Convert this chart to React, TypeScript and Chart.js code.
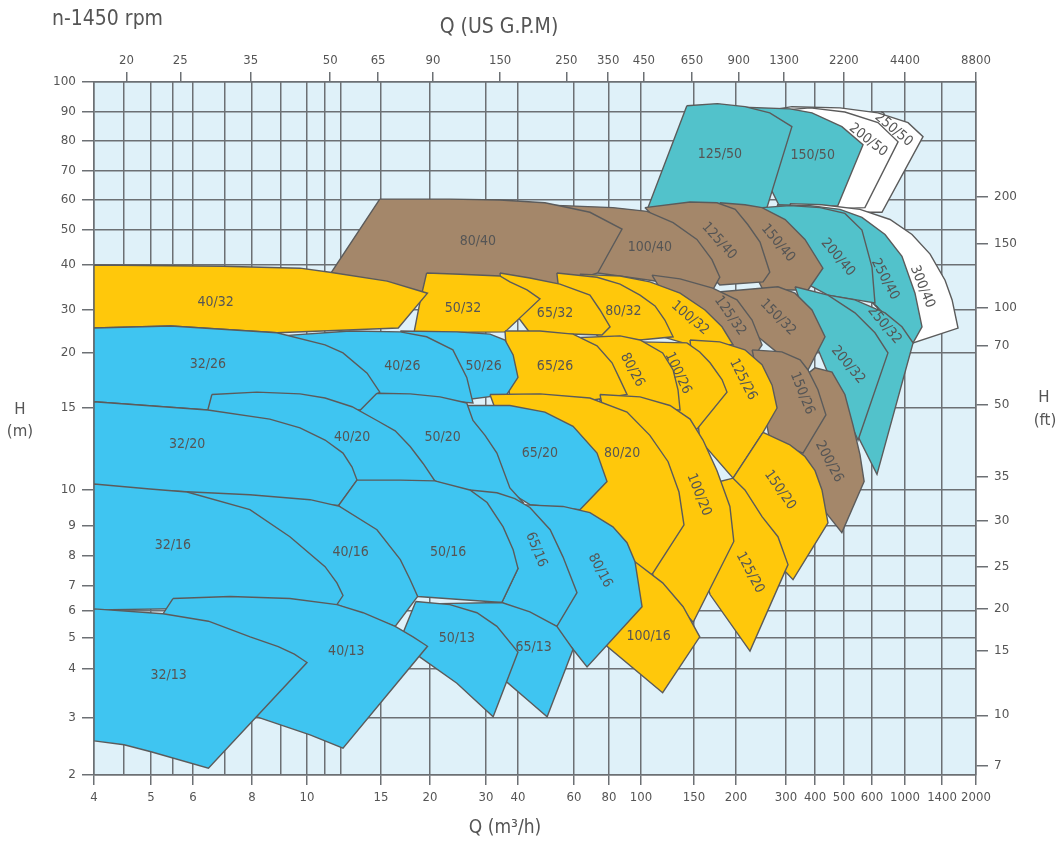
import { useEffect, useRef } from 'react';
import { Chart, registerables } from 'chart.js';

Chart.register(...registerables);

// ---------------- axis values ----------------
const Q_GRID = [4, 4.5, 5, 5.5, 6, 7, 8, 9, 10, 11, 12, 15, 20, 30, 40, 60, 80, 100, 150, 200, 300, 400, 500, 600, 1000, 1400, 2000];
const Q_TICK_LABELS = ['4', '', '5', '', '6', '', '8', '', '10', '', '', '15', '20', '30', '40', '60', '80', '100', '150', '200', '300', '400', '500', '600', '1000', '1400', '2000'];
const GPM_TICKS = [20, 25, 35, 50, 65, 90, 150, 250, 350, 450, 650, 900, 1300, 2200, 4400, 8800];
const H_TICKS = [2, 3, 4, 5, 6, 7, 8, 9, 10, 15, 20, 30, 40, 50, 60, 70, 80, 90, 100];
const FT_TICKS = [7, 10, 15, 20, 25, 30, 35, 50, 70, 100, 150, 200];

// ---------------- pump range outlines [Q m3/h, H m] ----------------
type Pt = [number, number];
const P_250_50: Pt[] = [[243, 90], [318, 91.7], [485, 91.3], [658, 89.7], [1028, 86.2], [1178, 81.4], [700, 55.7], [485, 55.7]];
const P_200_50: Pt[] = [[243, 90], [381, 91.3], [503, 90], [658, 86.2], [898, 79.7], [573, 57.3], [416, 56.7]];
const P_150_50: Pt[] = [[192, 91.7], [312, 91], [388, 89.7], [492, 84.8], [566, 78.7], [477, 58], [286, 57.3]];
const P_125_50: Pt[] = [[142, 92], [176, 92.7], [215, 91.7], [263, 89.7], [318, 84.8], [257, 57.3], [156, 56.7], [105.5, 57.3]];

const P_300_40: Pt[] = [[312, 58.7], [422, 58.3], [555, 56.7], [793, 53.3], [1066, 48.6], [1256, 42.9], [1445, 36.3], [1556, 32], [1656, 25.3], [1076, 22], [592, 32], [345, 44.3]];
const P_250_40: Pt[] = [[279, 58.3], [381, 58], [485, 56.7], [562, 54], [734, 48.6], [954, 42.3], [1095, 33.4], [1167, 25.6], [1076, 22], [592, 32], [345, 44.3]];
const P_200_40: Pt[] = [[247, 57.3], [312, 58], [416, 57.3], [503, 55.3], [562, 50], [600, 39.4], [628, 31.4], [442, 33], [345, 36.3]];
const P_150_40: Pt[] = [[179, 59], [215, 58.3], [247, 57.3], [298, 53.3], [362, 47.1], [425, 39.2], [373, 34.1], [249, 34.1]];
const P_125_40: Pt[] = [[103, 57.3], [145.5, 59.3], [175.6, 59], [199, 56.7], [220, 51.7], [243, 46.3], [263, 38.2], [249, 35.9], [179, 35.2]];
const P_100_40: Pt[] = [[43.6, 58.3], [55.4, 58], [82.2, 57.3], [104.7, 56], [127.8, 52.3], [153, 47.1], [169.6, 41.4], [179, 37], [170.5, 34.1], [107, 36.3], [72.9, 38]];
const P_80_40: Pt[] = [[14.9, 60.3], [23.1, 60.3], [34, 60], [48.6, 59], [55.4, 57.7], [68.4, 55.7], [87.6, 50.3], [72.9, 38], [54.2, 35.2], [20, 33], [11.4, 38]];

const P_250_32: Pt[] = [[442, 33], [537, 32], [734, 29.2], [954, 25.6], [1076, 22], [648, 10.8], [520, 14.1], [416, 24.8]];
const P_200_32: Pt[] = [[328, 34.8], [442, 33], [537, 29.2], [628, 24.2], [768, 20], [548, 12.8], [466, 16.5], [381, 24.8]];
const P_150_32: Pt[] = [[173, 33.6], [281, 34.8], [328, 33.4], [388, 30], [432, 23.3], [373, 18.3], [286, 19.8], [224, 24.8]];
const P_125_32: Pt[] = [[108.8, 37.5], [134.8, 36.6], [170.5, 34.5], [201.6, 32], [227.8, 27.3], [247, 21.6], [227.8, 19.3], [156, 19.8]];
const P_100_32: Pt[] = [[63, 37.7], [86.4, 37.3], [107, 35.9], [134.8, 33.4], [161.7, 30], [181.7, 25.6], [196, 21.6], [145.5, 21.6], [99.3, 24.8]];
const P_80_32: Pt[] = [[53, 38], [72.5, 37], [86.4, 35.4], [99.3, 33], [111.3, 30.8], [120, 27.3], [127.8, 23.3], [99.3, 22.6], [74.3, 23], [54.2, 32]];
const P_65_32: Pt[] = [[34, 38], [43.6, 36.8], [54.2, 35.4], [68.4, 33], [74.3, 30], [80.6, 25.6], [75.5, 23.7], [43.6, 24.2], [35.6, 32]];
const P_50_32: Pt[] = [[19.6, 38], [24.9, 37.7], [34, 37.3], [37.2, 35.9], [42.7, 34.1], [46.9, 32.2], [35.6, 24.4], [18.2, 24.2], [18.9, 32]];
const P_40_32: Pt[] = [[4, 40], [6.93, 39.7], [9.72, 39.2], [11.34, 38.2], [15.55, 36.1], [19.7, 33.4], [16.6, 25.3], [8.85, 24.2], [5.45, 25.8], [4, 25.3]];

const P_200_26: Pt[] = [[345, 17.4], [400, 18.5], [456, 18.1], [503, 16.1], [530, 13.8], [555, 11.9], [570, 10.43], [492, 8.77], [345, 10.5]];
const P_150_26: Pt[] = [[228, 20.6], [290, 20.2], [345, 19.3], [373, 18.3], [409, 16.5], [435, 14.5], [355, 12], [263, 12.8]];
const P_125_26: Pt[] = [[145.5, 22.6], [179, 22.2], [215, 20.6], [247, 18.8], [268, 16.9], [279, 15], [249, 13.3], [196, 10.6], [156, 12.8]];
const P_100_26: Pt[] = [[99.3, 22.2], [142, 22], [156, 20.2], [167.4, 19], [181.7, 17.4], [188, 16.3], [153, 13.5], [124.8, 14.1], [107, 15.6]];
const P_80_26: Pt[] = [[60.6, 23.1], [86.4, 23.5], [99.3, 22.6], [118, 20], [127.8, 18.3], [132.7, 16.5], [134.8, 14.85], [99.3, 14.85], [74.3, 15.6]];
const P_65_26: Pt[] = [[35.6, 24.6], [46.9, 24.6], [59.6, 23.9], [72.5, 21.4], [81.7, 19], [86.4, 17.4], [90.7, 16.1], [68.4, 15.6], [37.2, 15.6]];
const P_50_26: Pt[] = [[16.8, 24.6], [24.3, 24.4], [31.1, 23.9], [35.6, 22.6], [38.3, 19.8], [40, 17.6], [36.2, 16.1], [24.9, 15.6], [23.1, 19.3]];
const P_40_26: Pt[] = [[9, 23.5], [12.66, 24.6], [16.8, 24.4], [19.6, 23.3], [23.6, 20.6], [26.1, 17.6], [27.3, 15.4], [21.5, 15.6], [14.1, 16.1]];
const P_32_26: Pt[] = [[4, 25.3], [5.45, 25.8], [8.85, 24.2], [11.04, 21.6], [12.18, 20], [13.9, 18], [14.9, 16.3], [13.6, 14.85], [6.45, 14.85], [4, 15.5]];

const P_150_20: Pt[] = [[249, 13.3], [312, 12.5], [362, 11.8], [400, 11], [422, 10], [442, 9.08], [321.6, 7.2], [263, 8.03], [196, 10.6]];
const P_125_20: Pt[] = [[179, 10.43], [196, 10.6], [215, 10], [247, 9.25], [281, 8.63], [306, 7.7], [224, 4.55], [167.4, 6.64], [156, 7.87]];
const P_100_20: Pt[] = [[74.3, 16.1], [99.3, 15.9], [124.8, 15.2], [145.5, 14.2], [159.5, 12.8], [175.6, 11], [191.8, 9.53], [197, 8.47], [149, 5.56], [111.3, 7.2], [86.4, 9.72]];
const P_80_20: Pt[] = [[31.1, 16.1], [46.9, 16.15], [68.4, 15.8], [90.7, 14.7], [107, 13.1], [123, 11.5], [133.7, 9.94], [138.9, 9.03], [108.8, 7.37], [74.3, 7.87], [43.6, 9.58]];
const P_65_20: Pt[] = [[24.9, 15.2], [37.2, 15.2], [48.6, 14.7], [59.6, 13.7], [72.5, 12], [78.7, 10.43], [63, 9.44], [43.6, 9.58], [31.1, 10.5]];
const P_50_20: Pt[] = [[14.67, 16.2], [17.8, 16.15], [21.5, 15.9], [26.1, 15.4], [27.3, 14.1], [29.8, 13.1], [33.1, 12], [37.2, 10.1], [41.5, 9.64], [34, 9.58], [20.7, 10.46], [12.66, 14.1]];
const P_40_20: Pt[] = [[6.58, 16.1], [8.16, 16.3], [9.72, 16.15], [11.04, 15.8], [12.8, 15.1], [14.67, 14.1], [16.3, 13.4], [17.8, 12.4], [19.2, 11.4], [20.7, 10.46], [16.8, 9.72], [11.9, 9.56], [9.72, 11], [6.45, 14.85]];
const P_32_20: Pt[] = [[4, 15.5], [6.45, 14.85], [8.6, 14.2], [9.72, 13.6], [11.04, 12.8], [12.18, 12], [12.8, 11.2], [13.15, 10.5], [11.9, 9.56], [7.92, 9.72], [4, 10.05]];

const P_100_16: Pt[] = [[95.9, 7.8], [118, 7.1], [138, 6.16], [156, 5.04], [118, 3.48], [78.7, 4.71], [71, 5.67], [83.4, 7.2]];
const P_80_16: Pt[] = [[40.6, 9.58], [55.4, 9.53], [68.4, 9.36], [82.2, 8.97], [90.7, 8.43], [95.9, 7.8], [100.8, 6.16], [66.8, 4.06], [59.6, 4.61], [52.3, 5.37], [43.6, 7.87]];
const P_65_16: Pt[] = [[26.7, 10], [33.1, 9.92], [38.9, 9.75], [43.6, 9.5], [50.5, 8.87], [55.4, 7.97], [61.5, 6.72], [53, 5.41], [34.6, 6.32], [40, 7.57]];
const P_50_16: Pt[] = [[13.15, 10.5], [16.8, 10.5], [20.7, 10.46], [26.7, 10], [30.3, 9.64], [35, 8.97], [38.3, 8.2], [40, 7.57], [34.6, 6.32], [18.6, 6.56], [14.9, 7.87], [11.9, 9.56]];
const P_40_16: Pt[] = [[5.45, 9.97], [7.92, 9.86], [10.17, 9.72], [11.95, 9.53], [14.67, 8.87], [16.8, 7.87], [17.8, 7.2], [18.6, 6.56], [16.3, 5.41], [11.78, 6.24], [7.92, 6.44], [5.5, 6.48]];
const P_32_16: Pt[] = [[4, 10.3], [4.98, 10.05], [5.85, 9.94], [7.92, 9.44], [9.33, 8.63], [11.04, 7.63], [11.78, 7.1], [12.18, 6.6], [11.78, 6.24], [7.92, 6.12], [4, 6.04]];

const P_65_13: Pt[] = [[21.5, 6.28], [34.6, 6.32], [43.6, 5.96], [53, 5.41], [59.6, 4.61], [49.4, 3.02], [43, 3.33], [36.6, 3.68], [31.1, 3.94]];
const P_50_13: Pt[] = [[18.4, 6.36], [23.1, 6.24], [28.1, 5.93], [33.1, 5.41], [40, 4.52], [32, 3.02], [24.3, 3.68], [18.9, 4.35], [16.8, 4.94]];
const P_40_13: Pt[] = [[5.5, 6.48], [7.19, 6.56], [9.33, 6.48], [11.78, 6.24], [13.6, 5.93], [16.3, 5.41], [18.1, 5.04], [19.7, 4.71], [12.18, 2.42], [10.17, 2.66], [8.16, 3.02], [6.42, 3.37], [5.27, 5.89]];
const P_32_13: Pt[] = [[4, 6.08], [5.27, 5.89], [6.47, 5.6], [7.93, 5.04], [8.9, 4.7], [9.5, 4.45], [10, 4.19], [6.47, 2.1], [5, 2.36], [4.5, 2.48], [4, 2.55]];

// ---------------- styles ----------------
const BLUE = '#3fc5f1';
const YELLOW = '#ffc80b';
const BROWN = '#a4876a';
const TEAL = '#52c2cb';
const WHITE = '#ffffff';
const OUTLINE = '#5b5b5b';
const GRID = '#6c7074';
const PLOT_BG = '#dff1f9';
const TEXT = '#555555';
const NARROW = "'Liberation Sans Narrow', 'DejaVu Sans Condensed', 'Noto Sans', sans-serif";
const SANS = "'DejaVu Sans', 'Noto Sans', sans-serif";

interface Shape { name: string; pts: Pt[]; color: string; at: Pt; rot: number }

// drawing order: first = bottom-most
const SHAPES: Shape[] = [
  { name: '250/50', pts: P_250_50, color: WHITE, at: [839, 83.8], rot: 40 },
  { name: '200/50', pts: P_200_50, color: WHITE, at: [585, 80.3], rot: 38 },
  { name: '150/50', pts: P_150_50, color: TEAL, at: [391, 75], rot: 0 },
  { name: '125/50', pts: P_125_50, color: TEAL, at: [179, 75.3], rot: 0 },
  { name: '300/40', pts: P_300_40, color: WHITE, at: [1170, 34.8], rot: 68 },
  { name: '250/40', pts: P_250_40, color: TEAL, at: [734, 36.5], rot: 62 },
  { name: '200/40', pts: P_200_40, color: TEAL, at: [477, 42], rot: 50 },
  { name: '150/40', pts: P_150_40, color: BROWN, at: [281, 46], rot: 50 },
  { name: '125/40', pts: P_125_40, color: BROWN, at: [178, 46.6], rot: 48 },
  { name: '100/40', pts: P_100_40, color: BROWN, at: [107, 44.9], rot: 0 },
  { name: '80/40', pts: P_80_40, color: BROWN, at: [28.3, 46.6], rot: 0 },
  { name: '250/32', pts: P_250_32, color: TEAL, at: [727, 26], rot: 50 },
  { name: '200/32', pts: P_200_32, color: TEAL, at: [513, 18.8], rot: 50 },
  { name: '150/32', pts: P_150_32, color: BROWN, at: [281, 28], rot: 45 },
  { name: '125/32', pts: P_125_32, color: BROWN, at: [192, 28.4], rot: 55 },
  { name: '100/32', pts: P_100_32, color: YELLOW, at: [145.5, 27.8], rot: 40 },
  { name: '80/32', pts: P_80_32, color: YELLOW, at: [88.5, 29.6], rot: 0 },
  { name: '65/32', pts: P_65_32, color: YELLOW, at: [52.3, 29.2], rot: 0 },
  { name: '50/32', pts: P_50_32, color: YELLOW, at: [25.4, 30.4], rot: 0 },
  { name: '40/32', pts: P_40_32, color: YELLOW, at: [6.7, 31.6], rot: 0 },
  { name: '200/26', pts: P_200_26, color: BROWN, at: [446, 11.5], rot: 62 },
  { name: '150/26', pts: P_150_26, color: BROWN, at: [352, 16.2], rot: 68 },
  { name: '125/26', pts: P_125_26, color: YELLOW, at: [211.7, 17.4], rot: 63 },
  { name: '100/26', pts: P_100_26, color: YELLOW, at: [132.7, 18], rot: 65 },
  { name: '80/26', pts: P_80_26, color: YELLOW, at: [94, 18.3], rot: 62 },
  { name: '65/26', pts: P_65_26, color: YELLOW, at: [52.3, 18.6], rot: 0 },
  { name: '50/26', pts: P_50_26, color: BLUE, at: [29.5, 18.6], rot: 0 },
  { name: '40/26', pts: P_40_26, color: BLUE, at: [17, 18.6], rot: 0 },
  { name: '32/26', pts: P_32_26, color: BLUE, at: [6.45, 18.8], rot: 0 },
  { name: '150/20', pts: P_150_20, color: YELLOW, at: [285.6, 10], rot: 55 },
  { name: '125/20', pts: P_125_20, color: YELLOW, at: [224, 7.43], rot: 62 },
  { name: '100/20', pts: P_100_20, color: YELLOW, at: [155, 9.86], rot: 68 },
  { name: '80/20', pts: P_80_20, color: YELLOW, at: [87.6, 12], rot: 0 },
  { name: '65/20', pts: P_65_20, color: BLUE, at: [46.9, 12], rot: 0 },
  { name: '50/20', pts: P_50_20, color: BLUE, at: [21.9, 13], rot: 0 },
  { name: '40/20', pts: P_40_20, color: BLUE, at: [12.8, 13], rot: 0 },
  { name: '32/20', pts: P_32_20, color: BLUE, at: [5.85, 12.5], rot: 0 },
  { name: '100/16', pts: P_100_16, color: YELLOW, at: [106, 5.04], rot: 0 },
  { name: '80/16', pts: P_80_16, color: BLUE, at: [74.3, 7.5], rot: 62 },
  { name: '65/16', pts: P_65_16, color: BLUE, at: [45.6, 8.2], rot: 68 },
  { name: '50/16', pts: P_50_16, color: BLUE, at: [22.8, 8.13], rot: 0 },
  { name: '40/16', pts: P_40_16, color: BLUE, at: [12.7, 8.13], rot: 0 },
  { name: '32/16', pts: P_32_16, color: BLUE, at: [5.5, 8.33], rot: 0 },
  { name: '65/13', pts: P_65_13, color: BLUE, at: [44.8, 4.68], rot: 0 },
  { name: '50/13', pts: P_50_13, color: BLUE, at: [24.3, 4.97], rot: 0 },
  { name: '40/13', pts: P_40_13, color: BLUE, at: [12.4, 4.55], rot: 0 },
  { name: '32/13', pts: P_32_13, color: BLUE, at: [5.4, 3.86], rot: 0 },
];

// ---------------- non-uniform (hand-drawn) log axes ----------------
const X_STOPS = [4, 5, 6, 8, 10, 15, 20, 30, 40, 60, 80, 100, 150, 200, 300, 400, 500, 600, 1000, 1400, 2000];
const X_FRAC = [0, 0.0646, 0.1122, 0.1791, 0.2415, 0.3254, 0.381, 0.4444, 0.4807, 0.5442, 0.5839, 0.6202, 0.6803, 0.7279, 0.7846, 0.8175, 0.8503, 0.8821, 0.9195, 0.9615, 1];
const Y_STOPS = [2, 3, 4, 5, 6, 7, 8, 9, 10, 15, 20, 30, 40, 50, 60, 70, 80, 90, 100];
const Y_FRAC = [0, 0.0823, 0.153, 0.1977, 0.2367, 0.2727, 0.316, 0.3593, 0.4113, 0.5296, 0.609, 0.671, 0.7359, 0.7864, 0.8297, 0.8716, 0.9149, 0.9567, 1];

function warp(v: number, stops: number[], fr: number[]): number {
  let i = 0;
  while (i < stops.length - 2 && v > stops[i + 1]) i++;
  const a = Math.log(stops[i]);
  const b = Math.log(stops[i + 1]);
  return fr[i] + ((Math.log(v) - a) / (b - a)) * (fr[i + 1] - fr[i]);
}
const wx = (q: number) => warp(q, X_STOPS, X_FRAC);
const wy = (h: number) => warp(h, Y_STOPS, Y_FRAC);

const plotBg = {
  id: 'plotBg',
  beforeDraw(chart: any) {
    const { ctx, chartArea: a } = chart;
    ctx.save();
    ctx.fillStyle = PLOT_BG;
    ctx.fillRect(a.left, a.top, a.right - a.left, a.bottom - a.top);
    ctx.restore();
  },
};

const shapeLabels = {
  id: 'shapeLabels',
  afterDatasetsDraw(chart: any) {
    const { ctx } = chart;
    const xs = chart.scales.x;
    const ys = chart.scales.y;
    ctx.save();
    ctx.font = `14px ${NARROW}`;
    ctx.fillStyle = TEXT;
    ctx.textAlign = 'center';
    ctx.textBaseline = 'middle';
    for (const s of SHAPES) {
      const px = xs.getPixelForValue(wx(s.at[0]));
      const py = ys.getPixelForValue(wy(s.at[1]));
      ctx.save();
      ctx.translate(px, py);
      ctx.rotate((s.rot * Math.PI) / 180);
      ctx.fillText(s.name, 0, 0);
      ctx.restore();
    }
    ctx.restore();
  },
};

const titles = {
  id: 'titles',
  afterDraw(chart: any) {
    const { ctx } = chart;
    ctx.save();
    ctx.fillStyle = TEXT;
    ctx.textBaseline = 'middle';
    ctx.font = `21px ${NARROW}`;
    ctx.textAlign = 'left';
    ctx.fillText('n-1450 rpm', 52, 20);
    ctx.textAlign = 'center';
    ctx.fillText('Q (US G.P.M)', 499, 28);
    ctx.font = `19px ${NARROW}`;
    ctx.fillText('Q (m³/h)', 505, 828);
    ctx.font = `15px ${SANS}`;
    ctx.fillText('H', 20, 410);
    ctx.fillText('(m)', 20, 432);
    ctx.fillText('H', 1044, 398);
    ctx.fillText('(ft)', 1045, 421);
    ctx.restore();
  },
};

export default function App() {
  const ref = useRef<HTMLCanvasElement | null>(null);

  useEffect(() => {
    if (!ref.current) return;
    const n = SHAPES.length;
    const datasets = SHAPES.map((s, i) => ({
      label: s.name,
      data: [...s.pts, s.pts[0]].map(([q, h]) => ({ x: wx(q), y: wy(h) })),
      borderColor: OUTLINE,
      borderWidth: 1.4,
      backgroundColor: s.color,
      fill: 'shape',
      pointRadius: 0,
      tension: 0,
      order: n - i,
    }));
    const transparent = 'rgba(0,0,0,0)';
    const chart = new Chart(ref.current, {
      type: 'line',
      data: { datasets } as any,
      plugins: [plotBg, shapeLabels, titles],
      options: {
        responsive: false,
        animation: false,
        events: [],
        layout: { padding: 0 },
        plugins: { legend: { display: false }, tooltip: { enabled: false } },
        scales: {
          x: {
            type: 'linear', position: 'bottom', min: 0, max: 1,
            afterBuildTicks: (s: any) => { s.ticks = Q_GRID.map((q) => ({ value: wx(q) })); },
            afterFit: (s: any) => { s.height = 66; },
            ticks: {
              autoSkip: false, maxRotation: 0, minRotation: 0, padding: 5, color: TEXT,
              font: { family: NARROW, size: 13 },
              callback: (_v: any, i: number) => Q_TICK_LABELS[i],
            },
            grid: {
              color: GRID, lineWidth: 1.5, tickLength: 10, tickWidth: 1.5,
              tickColor: (c: any) => (Q_TICK_LABELS[c.index] ? GRID : transparent),
            },
            border: { display: true, color: GRID, width: 1.5 },
          },
          xT: {
            type: 'linear', position: 'top', min: 0, max: 1,
            afterBuildTicks: (s: any) => { s.ticks = GPM_TICKS.map((g) => ({ value: wx(g / 4.4029) })); },
            afterFit: (s: any) => { s.height = 82; },
            ticks: {
              autoSkip: false, maxRotation: 0, minRotation: 0, padding: 4, color: TEXT,
              font: { family: NARROW, size: 13 },
              callback: (_v: any, i: number) => String(GPM_TICKS[i]),
            },
            grid: { drawOnChartArea: false, color: GRID, lineWidth: 1.5, tickLength: 10 },
            border: { display: true, color: GRID, width: 1.5 },
          },
          y: {
            type: 'linear', position: 'left', min: 0, max: 1,
            afterBuildTicks: (s: any) => { s.ticks = H_TICKS.map((h) => ({ value: wy(h) })); },
            afterFit: (s: any) => { s.width = 94; },
            ticks: {
              autoSkip: false, padding: 6, color: TEXT,
              font: { family: SANS, size: 12 },
              callback: (_v: any, i: number) => String(H_TICKS[i]),
            },
            grid: { color: GRID, lineWidth: 1.5, tickLength: 12 },
            border: { display: true, color: GRID, width: 1.5 },
          },
          yR: {
            type: 'linear', position: 'right', min: 0, max: 1,
            afterBuildTicks: (s: any) => { s.ticks = FT_TICKS.map((f) => ({ value: wy(f * 0.3048) })); },
            afterFit: (s: any) => { s.width = 83; },
            ticks: {
              autoSkip: false, padding: 6, color: TEXT,
              font: { family: SANS, size: 12 },
              callback: (_v: any, i: number) => String(FT_TICKS[i]),
            },
            grid: { drawOnChartArea: false, color: GRID, lineWidth: 1.5, tickLength: 12 },
            border: { display: true, color: GRID, width: 1.5 },
          },
        },
      } as any,
    });
    return () => chart.destroy();
  }, []);

  return (
    <div style={{ position: 'absolute', left: 0, top: 0, width: 1059, height: 841, background: '#ffffff' }}>
      <canvas ref={ref} width={1059} height={841} style={{ display: 'block', width: 1059, height: 841 }} />
    </div>
  );
}
